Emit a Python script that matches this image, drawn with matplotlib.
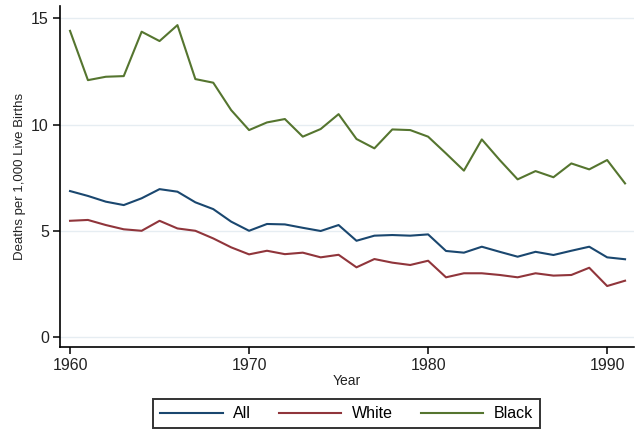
import matplotlib
matplotlib.use("Agg")
import matplotlib.pyplot as plt

years = list(range(1960, 1992))
all_rate = [6.87, 6.64, 6.37, 6.21, 6.53, 6.96, 6.84, 6.34, 6.02, 5.43,
            5.00, 5.32, 5.30, 5.14, 4.99, 5.27, 4.53, 4.77, 4.80, 4.77,
            4.83, 4.05, 3.97, 4.25, 4.01, 3.78, 4.01, 3.86, 4.06, 4.25,
            3.75, 3.66]
white_rate = [5.47, 5.51, 5.27, 5.07, 5.00, 5.47, 5.11, 5.00, 4.64, 4.22,
              3.89, 4.06, 3.90, 3.97, 3.75, 3.87, 3.28, 3.67, 3.50, 3.39,
              3.59, 2.81, 3.00, 3.00, 2.92, 2.81, 3.00, 2.89, 2.92, 3.26,
              2.40, 2.65]
black_rate = [14.41, 12.09, 12.25, 12.28, 14.37, 13.93, 14.68, 12.14, 11.97, 10.68,
              9.74, 10.10, 10.26, 9.43, 9.79, 10.49, 9.32, 8.88, 9.77, 9.74,
              9.43, 8.64, 7.83, 9.30, 8.33, 7.42, 7.81, 7.52, 8.17, 7.89,
              8.33, 7.23]
series_labels = ["All", "White", "Black"]
x_ticks = [1960, 1970, 1980, 1990]
y_ticks = [0, 5, 10, 15]

plt.rcParams['font.family'] = ['Liberation Sans', 'DejaVu Sans']

fig = plt.figure(figsize=(6.35, 4.33), dpi=100)
ax = fig.add_axes([60/635, 86.3/433, (634-60)/635, (346.7-6)/433])

colors = ["#1a476f", "#90353b", "#55752f"]
for vals, lab, c in zip([all_rate, white_rate, black_rate], series_labels, colors):
    ax.plot(years, vals, color=c, lw=1.5, label=lab)

ax.set_xlim(1959.44, 1991.5)
ax.set_ylim(-0.456, 15.58)
ax.set_xticks(x_ticks)
ax.set_yticks(y_ticks)
ax.yaxis.grid(True, color="#e6edf2", lw=1.0)
ax.set_axisbelow(True)
for s in ["top", "right"]:
    ax.spines[s].set_visible(False)
for s in ["left", "bottom"]:
    ax.spines[s].set_linewidth(1.2)
    ax.spines[s].set_color("black")
ax.tick_params(axis="both", direction="out", length=5, width=1.1,
               labelsize=11.5, colors="black", labelcolor="#222222", pad=3)
ax.set_ylabel("Deaths per 1,000 Live Births", fontsize=9.5, labelpad=4, color="#222222")
ax.set_xlabel("Year", fontsize=10, labelpad=1, color="#222222")

handles, labels = ax.get_legend_handles_labels()
leg = fig.legend(handles, labels, loc="center", bbox_to_anchor=(346.5/635, 1-413.7/433),
                 ncol=3, fontsize=11.5, frameon=True, fancybox=False,
                 handlelength=3.9, handletextpad=0.65, columnspacing=1.75,
                 borderpad=0.45, borderaxespad=0, edgecolor="black")
leg.get_frame().set_linewidth(1.4)

fig.savefig("out.png", dpi=100)
